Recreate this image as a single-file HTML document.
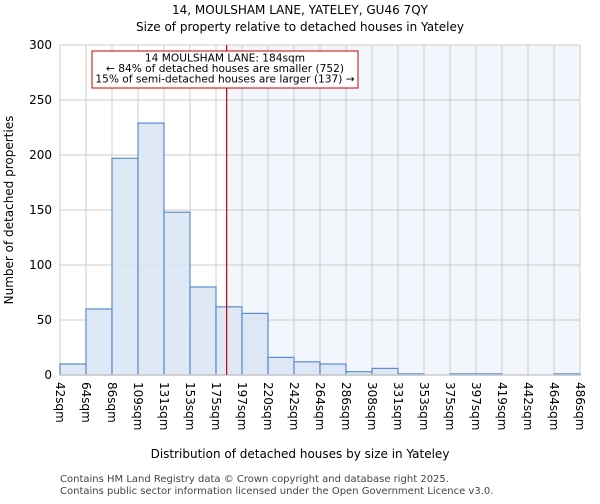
<!DOCTYPE html>
<html><head><meta charset="utf-8"><style>
body{margin:0;background:#fff;font-family:"DejaVu Sans","Liberation Sans",sans-serif;}
</style></head><body>
<svg width="600" height="500" xmlns="http://www.w3.org/2000/svg" font-family="DejaVu Sans, Liberation Sans, sans-serif">
<text x="300" y="14" text-anchor="middle" font-size="12">14, MOULSHAM LANE, YATELEY, GU46 7QY</text>
<text x="300" y="31" text-anchor="middle" font-size="12">Size of property relative to detached houses in Yateley</text>
<g id="plot"></g>
<text x="300" y="458" text-anchor="middle" font-size="12">Distribution of detached houses by size in Yateley</text>
<text transform="translate(13,210) rotate(-90)" text-anchor="middle" font-size="12">Number of detached properties</text>
<text x="60" y="482" font-size="10" fill="#444">Contains HM Land Registry data © Crown copyright and database right 2025.</text>
<text x="60" y="494" font-size="10" fill="#444">Contains public sector information licensed under the Open Government Licence v3.0.</text>
</svg>
<script>
const binLabels=["42sqm","64sqm","86sqm","109sqm","131sqm","153sqm","175sqm","197sqm","220sqm","242sqm","264sqm","286sqm","308sqm","331sqm","353sqm","375sqm","397sqm","419sqm","442sqm","464sqm","486sqm"];
const counts=[10,60,197,229,148,80,62,56,16,12,10,3,6,1,0,1,1,0,0,1];
const yTicks=[0,50,100,150,200,250,300];
const subjectSize=184;
const X0=60,X1=580,Y0=375,Y1=45,yMax=300;
const NS="http://www.w3.org/2000/svg";
const g=document.getElementById('plot');
const n=counts.length,bw=(X1-X0)/n;
const xb=i=>X0+i*bw;
const y=v=>Y0-(v/yMax)*(Y0-Y1);
const edges=binLabels.map(s=>parseFloat(s));
function xVal(v){for(let i=0;i<n;i++){if(v<=edges[i+1])return xb(i)+bw*(v-edges[i])/(edges[i+1]-edges[i]);}return X1;}
function mk(t,a){const e=document.createElementNS(NS,t);for(const k in a)e.setAttribute(k,a[k]);g.appendChild(e);return e;}
const rx=xVal(subjectSize);
let e=mk('rect',{x:rx,y:Y1,width:X1-rx,height:Y0-Y1,fill:'#f3f6fd'});


yTicks.forEach(t=>{
 let l=mk('line',{x1:X0,x2:X1,y1:y(t),y2:y(t),stroke:'#ccc','stroke-width':1});
 
 
 let tx=mk('text',{x:X0-8,y:y(t)+4,'text-anchor':'end','font-size':12});
 tx.textContent=t;
 
 
});
binLabels.forEach((s,i)=>{
 let l=mk('line',{x1:xb(i),x2:xb(i),y1:Y1,y2:Y0,stroke:'#ccc','stroke-width':1});
 
 
 let tx=mk('text',{transform:`translate(${xb(i)-4},${Y0+7}) rotate(90)`,'font-size':12});
 tx.textContent=s;
 
 
});
counts.forEach((c,i)=>{
 let r=mk('rect',{x:xb(i),y:y(c),width:bw,height:Y0-y(c),fill:'#dce6f4',stroke:'#5b8bd0','stroke-width':1.2,'fill-opacity':0.9});
 
 
});
let ax=mk('line',{x1:X0,x2:X1,y1:Y0,y2:Y0,stroke:'#ccc','stroke-width':1.5});


let ml=mk('line',{x1:rx,x2:rx,y1:Y1,y2:Y0,stroke:'#cc0000','stroke-width':1.2});


let bx=mk('rect',{x:92,y:51,width:266,height:37,fill:'#fff',stroke:'#cc0000','stroke-width':1});


["14 MOULSHAM LANE: 184sqm","← 84% of detached houses are smaller (752)","15% of semi-detached houses are larger (137) →"].forEach((s,i)=>{
 let t=mk('text',{x:225,y:61.5+i*10.5,'text-anchor':'middle','font-size':10.6});
 t.textContent=s;
 
 
});
</script>
</body></html>
